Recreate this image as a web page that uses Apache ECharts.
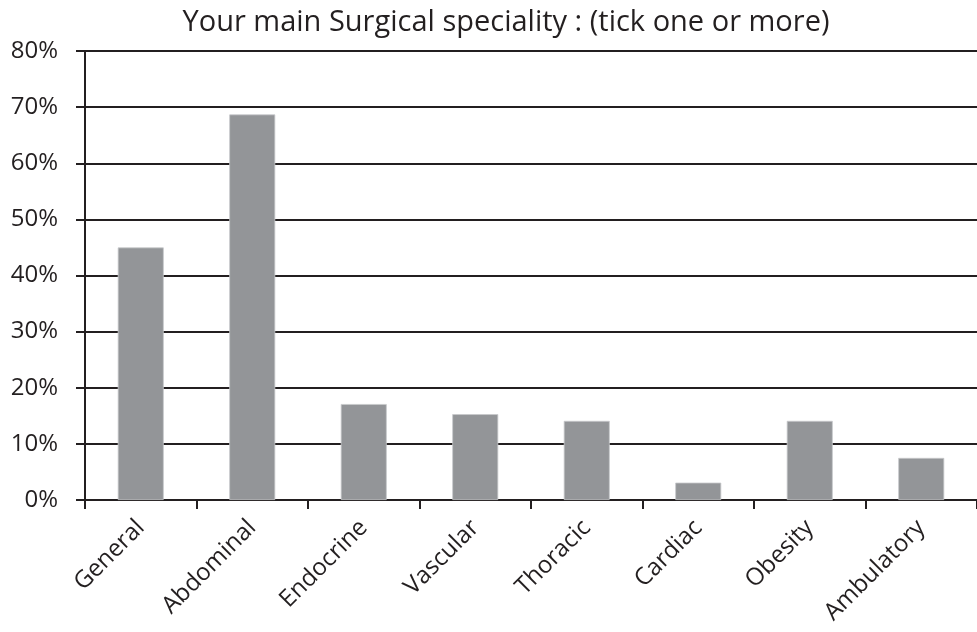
<!DOCTYPE html>
<html>
<head>
<meta charset="utf-8">
<script src="https://cdn.jsdelivr.net/npm/echarts@6/dist/echarts.min.js"></script>
<style>
  html, body { margin: 0; padding: 0; background: #fff; }
  #chart { width: 977px; height: 632px; }
</style>
</head>
<body>
<div id="chart"></div>
<script>
// Survey answers: main surgical speciality (share of respondents, %)
const categories = ['General', 'Abdominal', 'Endocrine', 'Vascular', 'Thoracic', 'Cardiac', 'Obesity', 'Ambulatory'];
const shares = [45.0, 68.7, 17.1, 15.3, 14.1, 3.1, 14.1, 7.5];
const yTicks = [0, 10, 20, 30, 40, 50, 60, 70, 80];

const chart = echarts.init(document.getElementById('chart'));
const font = '"Open Sans", "Noto Sans", sans-serif';

chart.setOption({
  animation: false,
  title: {
    text: 'Your main Surgical speciality : (tick one or more)',
    left: 501,
    textAlign: 'center',
    top: 3,
    textStyle: { fontFamily: font, fontSize: 29, fontWeight: 'normal', color: '#231f20' }
  },
  grid: { left: 85, top: 51, width: 902, height: 449, containLabel: false },
  xAxis: {
    type: 'category',
    data: categories,
    boundaryGap: true,
    axisLine: { lineStyle: { color: '#231f20', width: 2 } },
    axisTick: { show: true, alignWithLabel: false, length: 9, lineStyle: { color: '#231f20', width: 2 } },
    axisLabel: {
      rotate: 45,
      margin: 24,
      fontFamily: font,
      fontSize: 24,
      color: '#231f20'
    }
  },
  yAxis: {
    type: 'value',
    min: yTicks[0],
    max: yTicks[yTicks.length - 1],
    interval: 10,
    axisLine: { show: true, lineStyle: { color: '#231f20', width: 2 } },
    axisTick: { show: true, length: 9, lineStyle: { color: '#231f20', width: 2 } },
    splitLine: { show: true, lineStyle: { color: '#231f20', width: 2 } },
    axisLabel: {
      formatter: v => v + '%',
      margin: 27,
      fontFamily: font,
      fontSize: 24,
      color: '#231f20'
    }
  },
  series: [{
    type: 'bar',
    data: shares,
    barWidth: 46,
    itemStyle: { color: '#939598', borderColor: '#c8c9cb', borderWidth: 0.8 }
  }]
});
</script>
</body>
</html>
